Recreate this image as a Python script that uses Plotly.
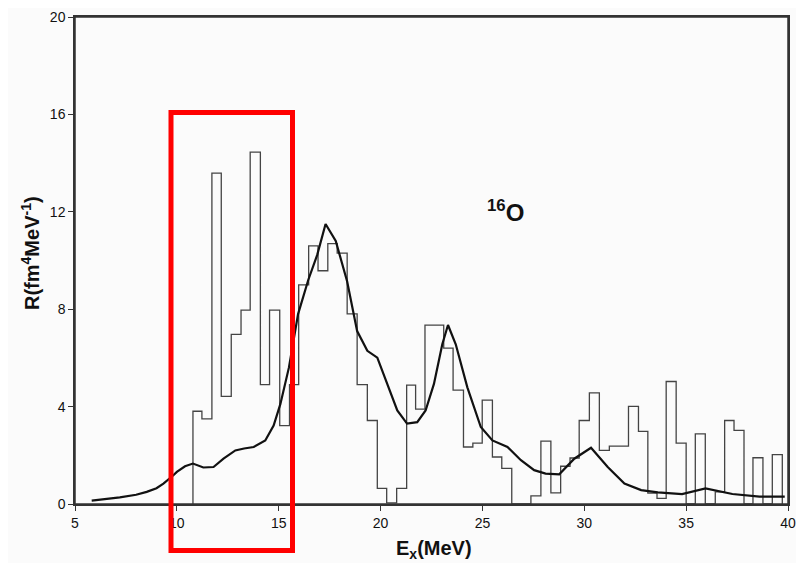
import plotly.graph_objects as go

bin_edges = [10.79, 11.23, 11.72, 12.18, 12.67, 13.15, 13.60, 14.10, 14.55, 15.05,
             15.53, 15.98, 16.47, 16.93, 17.41, 17.87, 18.36, 18.85, 19.35, 19.84,
             20.30, 20.79, 21.28, 21.72, 22.18, 22.64, 23.10, 23.56, 24.07, 24.53,
             24.99, 25.49, 25.95, 26.44, 26.90, 27.38, 27.87, 28.36, 28.84, 29.30,
             29.75, 30.25, 30.74, 31.23, 31.67, 32.17, 32.66, 33.12, 33.57, 34.02,
             34.51, 35.00, 35.45, 35.94, 36.43, 36.89, 37.35, 37.84, 38.28, 38.77,
             39.23, 39.72]
bin_values = [3.81, 3.50, 13.59, 4.42, 6.97, 7.96, 14.45, 4.90, 7.96, 3.22,
              4.90, 9.00, 10.60, 9.58, 10.69, 10.30, 7.81, 4.90, 3.43, 0.64,
              0.05, 0.64, 4.88, 3.90, 7.35, 7.35, 6.40, 4.68, 2.34, 2.50,
              4.27, 1.93, 1.46, 0.00, 0.00, 0.33, 2.58, 0.46, 1.55, 1.89,
              3.43, 4.56, 2.20, 2.38, 2.38, 4.01, 2.98, 0.45, 0.23, 5.03,
              2.50, 0.00, 2.88, 0.00, 0.50, 3.43, 3.02, 0.00, 1.90, 0.00,
              2.03]

# Smooth (calculated) curve
curve_E = [5.82, 6.5, 7.2, 8.0, 8.52, 9.0, 9.34, 9.83, 10.0, 10.4, 10.79, 11.3, 11.8,
           12.29, 12.87, 13.3, 13.77, 14.34, 14.75, 15.08, 15.5, 15.95, 16.45, 16.89,
           17.3, 17.8, 18.36, 18.85, 19.35, 19.84, 20.33, 20.82, 21.3, 21.8, 22.21,
           22.62, 23.03, 23.31, 23.69, 24.26, 24.92, 25.49, 26.23, 26.89, 27.54,
           28.1, 28.77, 29.51, 30.33, 31.15, 31.97, 32.79, 33.61, 34.8, 35.95,
           37.27, 38.6, 39.84]
curve_R = [0.14, 0.20, 0.27, 0.38, 0.50, 0.65, 0.84, 1.18, 1.32, 1.55, 1.66, 1.50, 1.52,
           1.86, 2.20, 2.28, 2.34, 2.61, 3.22, 4.10, 5.60, 7.80, 9.20, 10.23,
           11.50, 10.80, 9.14, 7.10, 6.29, 6.01, 4.93, 3.84, 3.30, 3.36, 3.84,
           4.93, 6.56, 7.35, 6.56, 4.79, 3.16, 2.61, 2.34, 1.80, 1.39,
           1.25, 1.22, 1.86, 2.31, 1.52, 0.84, 0.57, 0.48, 0.41, 0.64,
           0.41, 0.30, 0.30]

x_ticks = [5, 10, 15, 20, 25, 30, 35, 40]
y_ticks = [0, 4, 8, 12, 16, 20]

FONT = "Liberation Sans, Arial, sans-serif"

# target plot-area box on screen (page has an 8px body offset)
PL, PR, PT, PB = 75, 788, 17, 504
OFF = 8
W, H = 804, 563


def px(xs):
    return (xs - PL) / (PR - PL)


def py(ys):
    return (PB - ys) / (PB - PT)


hist_x = [bin_edges[0]] + bin_edges
hist_y = [0] + bin_values + [0]

fig = go.Figure()
fig.add_trace(go.Scatter(x=hist_x, y=hist_y, mode="lines", line_shape="hv",
                         line=dict(color="#444444", width=1.3), showlegend=False))
fig.add_trace(go.Scatter(x=curve_E, y=curve_R, mode="lines",
                         line=dict(color="#111111", width=2.2), showlegend=False))

fig.update_layout(
    width=W, height=H,
    margin=dict(l=PL - OFF, r=W + OFF - PR, t=PT - OFF, b=H + OFF - PB, autoexpand=False),
    paper_bgcolor="#fbfbfb", plot_bgcolor="#fbfbfb",
    font=dict(family=FONT, color="#111111", size=14),
    showlegend=False,
)
axis_common = dict(ticks="outside", ticklen=5, tickcolor="#333", showline=True,
                   linecolor="#333", linewidth=1.5, mirror=True, showgrid=False,
                   zeroline=False, automargin=False, ticklabeloverflow="allow",
                   tickfont=dict(family=FONT, size=14, color="#111"))
fig.update_xaxes(range=[5, 40], tickvals=x_ticks, **axis_common)
fig.update_yaxes(range=[0, 20], tickvals=y_ticks, **axis_common)

# plot frame
fig.add_shape(type="rect", xref="paper", yref="paper", x0=0, x1=1, y0=0, y1=1,
              line=dict(color="#333", width=1.5), layer="above")

# axis titles
fig.add_annotation(text="<b>E<sub>x</sub>(MeV)</b>", xref="paper", yref="paper",
                   x=px(434), y=py(549), xanchor="center", yanchor="middle",
                   showarrow=False, font=dict(family=FONT, size=20, color="#111"))
fig.add_annotation(text="<b>R(fm<sup>4</sup>MeV<sup>-1</sup>)</b>", xref="paper", yref="paper",
                   x=px(31), y=py(253), xanchor="center", yanchor="middle",
                   showarrow=False, textangle=-90,
                   font=dict(family=FONT, size=20, color="#111"))
# nucleus label
fig.add_annotation(text="<b><sup>16</sup>O</b>", xref="paper", yref="paper",
                   x=px(506), y=py(211), xanchor="center", yanchor="middle",
                   showarrow=False, font=dict(family=FONT, size=24, color="#111"))

# red highlight box
fig.add_shape(type="rect", xref="paper", yref="paper",
              x0=px(171), x1=px(292.5), y0=py(550.5), y1=py(112.5),
              line=dict(color="#ff0000", width=5))

fig.write_html("out.html")
